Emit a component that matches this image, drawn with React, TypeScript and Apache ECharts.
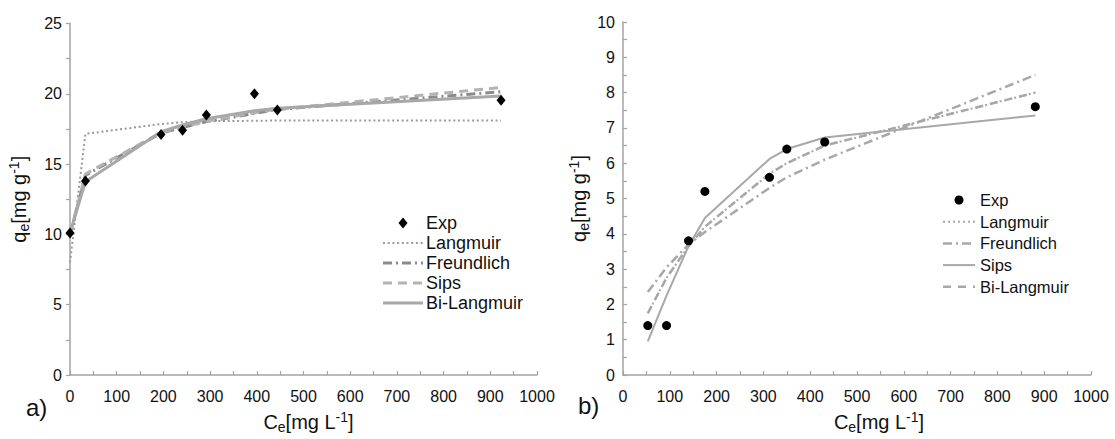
import React, { useEffect, useRef } from "react";
import * as echarts from "echarts";

// ---- panel a) ----
const xA = [0, 33, 195, 241, 292, 395, 444, 923];
const expA = [10.1, 13.8, 17.1, 17.4, 18.5, 20.0, 18.85, 19.55];
const langmuirA = [8.0, 17.15, 17.85, 17.98, 18.05, 18.08, 18.1, 18.1];
const freundlichA = [10.0, 14.2, 17.2, 17.6, 18.02, 18.6, 18.88, 20.15];
const sipsA = [10.0, 14.3, 17.25, 17.62, 18.05, 18.65, 18.9, 20.45];
const biLangmuirA = [10.1, 13.75, 17.3, 17.78, 18.22, 18.8, 18.98, 19.85];

// ---- panel b) ----
const xB = [53, 93, 140, 175, 313, 350, 431, 881];
const expB = [1.4, 1.4, 3.8, 5.2, 5.6, 6.4, 6.6, 7.6];
const langmuirB = [1.75, 2.75, 3.65, 4.2, 5.7, 6.0, 6.5, 8.0];
const freundlichB = [2.35, 3.05, 3.7, 4.05, 5.3, 5.6, 6.1, 8.5];
const sipsB = [0.95, 2.25, 3.65, 4.45, 6.12, 6.4, 6.73, 7.35];
const biLangmuirB = [1.75, 2.75, 3.65, 4.2, 5.7, 6.0, 6.5, 8.0];

const legendNames = ["Exp", "Langmuir", "Freundlich", "Sips", "Bi-Langmuir"];
const panelLabels = ["a)", "b)"];

const FONT = '"Liberation Sans", Arial, Helvetica, sans-serif';
const AXIS_GREY = "#a3a3a3";
const TEXT = "#111";

const pts = (xs: number[], ys: number[]) => xs.map((x, i) => [x, ys[i]]);

const titleRich = {
  m: { fontSize: 20, lineHeight: 24, fontFamily: FONT, color: TEXT },
  s: { fontSize: 14, lineHeight: 14, fontFamily: FONT, color: TEXT, verticalAlign: "bottom" },
  p: { fontSize: 14, lineHeight: 14, fontFamily: FONT, color: TEXT, verticalAlign: "top" },
};

const plain = (v: number) => String(v);

function makeXAxis(gridIndex: number, shift: number) {
  return {
    type: "value",
    gridIndex,
    min: 0,
    max: 1000,
    interval: 100,
    axisLine: { show: true, onZero: false, lineStyle: { color: AXIS_GREY, width: 1.5 } },
    axisTick: { show: true, inside: true, length: 4, lineStyle: { color: AXIS_GREY, width: 1.2 } },
    minorTick: { show: true, splitNumber: 2, length: 4, lineStyle: { color: AXIS_GREY, width: 1.2 } },
    splitLine: { show: false },
    minorSplitLine: { show: false },
    axisLabel: { fontSize: 16, color: TEXT, margin: 13, fontFamily: FONT, formatter: plain },
    name: "{m|C}{s|e}{m|[mg L}{p|-1}{m|]}",
    nameLocation: "middle",
    nameGap: 35,
    nameTextStyle: { padding: [0, 0, 0, shift], rich: titleRich },
  };
}

function makeYAxis(gridIndex: number, max: number, interval: number, inside: boolean, gap: number) {
  return {
    type: "value",
    gridIndex,
    min: 0,
    max,
    interval,
    axisLine: { show: true, onZero: false, lineStyle: { color: AXIS_GREY, width: 1.5 } },
    axisTick: { show: true, inside, length: 4, lineStyle: { color: AXIS_GREY, width: 1.2 } },
    minorTick: { show: true, splitNumber: 2, length: 4, lineStyle: { color: AXIS_GREY, width: 1.2 } },
    splitLine: { show: false },
    minorSplitLine: { show: false },
    axisLabel: { fontSize: 16, color: TEXT, margin: 8, fontFamily: FONT, formatter: plain },
    name: "{m|q}{s|e}{m|[mg g}{p|-1}{m|]}",
    nameLocation: "middle",
    nameGap: gap,
    nameTextStyle: { rich: titleRich },
  };
}

function lineSeries(name: string, axis: number, xs: number[], ys: number[], color: string, width: number, type: any, z = 2) {
  return {
    type: "line",
    name,
    xAxisIndex: axis,
    yAxisIndex: axis,
    data: pts(xs, ys),
    symbol: "none",
    color,
    lineStyle: { color, width, type },
    z,
  };
}

type Row = { label: string; kind: "diamond" | "dot" | "line"; color?: string; width?: number; dash?: number[] };

function legendGraphic(x0: number, x1: number, textX: number, y0: number, step: number, fontSize: number, rows: Row[]) {
  const els: any[] = [];
  rows.forEach((r, i) => {
    const y = y0 + i * step;
    const cx = (x0 + x1) / 2;
    if (r.kind === "diamond") {
      els.push({
        type: "polygon",
        shape: { points: [[cx, y - 5.5], [cx + 4.5, y], [cx, y + 5.5], [cx - 4.5, y]] },
        style: { fill: "#000" },
      });
    } else if (r.kind === "dot") {
      els.push({ type: "circle", shape: { cx, cy: y, r: 4.5 }, style: { fill: "#000" } });
    } else {
      els.push({
        type: "line",
        shape: { x1: x0, y1: y, x2: x1, y2: y },
        style: { stroke: r.color, lineWidth: r.width, lineDash: r.dash || null },
      });
    }
    els.push({
      type: "text",
      x: textX,
      y,
      style: { text: r.label, fontSize, fontFamily: FONT, fill: TEXT, verticalAlign: "middle", align: "left" },
    });
  });
  return els;
}

export default function App() {
  const ref = useRef<HTMLDivElement>(null);

  useEffect(() => {
    if (!ref.current) return;
    const chart = echarts.init(ref.current, undefined, { renderer: "svg" });

    const dotA = [2, 2.7];
    const dashDot = [9, 4, 2, 4];
    const dashA = [9, 6];
    const dashB = [8, 7];

    const option: any = {
      animation: false,
      backgroundColor: "#fff",
      textStyle: { fontFamily: FONT },
      grid: [
        { left: 70, top: 23.5, width: 467, height: 358 },
        { left: 623, top: 22, width: 468, height: 359 },
      ],
      xAxis: [makeXAxis(0, 10), makeXAxis(1, 44)],
      yAxis: [makeYAxis(0, 25, 5, false, 39), makeYAxis(1, 10, 1, true, 32)],
      series: [
        lineSeries(legendNames[1], 0, xA, langmuirA, "#9a9a9a", 2, dotA),
        lineSeries(legendNames[2], 0, xA, freundlichA, "#8a8a8a", 3, dashDot),
        lineSeries(legendNames[3], 0, xA, sipsA, "#b3b3b3", 3, dashA),
        lineSeries(legendNames[4], 0, xA, biLangmuirA, "#a8a8a8", 3, "solid", 3),
        {
          type: "scatter",
          name: legendNames[0],
          xAxisIndex: 0,
          yAxisIndex: 0,
          data: pts(xA, expA),
          symbol: "diamond",
          symbolSize: [9, 11],
          itemStyle: { color: "#000", opacity: 1 },
          z: 5,
        },
        lineSeries(legendNames[1], 1, xB, langmuirB, "#a8a8a8", 2, [2, 3]),
        lineSeries(legendNames[2], 1, xB, freundlichB, "#a8a8a8", 2.5, dashDot),
        lineSeries(legendNames[3], 1, xB, sipsB, "#a8a8a8", 2, "solid", 3),
        lineSeries(legendNames[4], 1, xB, biLangmuirB, "#a8a8a8", 2.5, dashB),
        {
          type: "scatter",
          name: legendNames[0],
          xAxisIndex: 1,
          yAxisIndex: 1,
          data: pts(xB, expB),
          symbol: "circle",
          symbolSize: 9,
          itemStyle: { color: "#000", opacity: 1 },
          z: 5,
        },
      ],
      graphic: [
        ...legendGraphic(383, 423, 426, 223, 20, 18, [
          { label: legendNames[0], kind: "diamond" },
          { label: legendNames[1], kind: "line", color: "#9a9a9a", width: 2, dash: dotA },
          { label: legendNames[2], kind: "line", color: "#8a8a8a", width: 3, dash: dashDot },
          { label: legendNames[3], kind: "line", color: "#b3b3b3", width: 3, dash: dashA },
          { label: legendNames[4], kind: "line", color: "#a8a8a8", width: 3 },
        ]),
        ...legendGraphic(943, 975, 980, 200, 21.7, 16.5, [
          { label: legendNames[0], kind: "dot" },
          { label: legendNames[1], kind: "line", color: "#a8a8a8", width: 2, dash: [2, 3] },
          { label: legendNames[2], kind: "line", color: "#a8a8a8", width: 2.5, dash: dashDot },
          { label: legendNames[3], kind: "line", color: "#a8a8a8", width: 2 },
          { label: legendNames[4], kind: "line", color: "#a8a8a8", width: 2.5, dash: dashB },
        ]),
        {
          type: "text",
          x: 26,
          y: 407,
          style: { text: panelLabels[0], fontSize: 24, fontFamily: FONT, fill: TEXT, verticalAlign: "middle" },
        },
        {
          type: "text",
          x: 578,
          y: 405,
          style: { text: panelLabels[1], fontSize: 24, fontFamily: FONT, fill: TEXT, verticalAlign: "middle" },
        },
      ],
    };

    chart.setOption(option);
    return () => chart.dispose();
  }, []);

  return (
    <div
      ref={ref}
      style={{ position: "fixed", left: 0, top: 0, width: 1115, height: 439, background: "#fff" }}
    />
  );
}
